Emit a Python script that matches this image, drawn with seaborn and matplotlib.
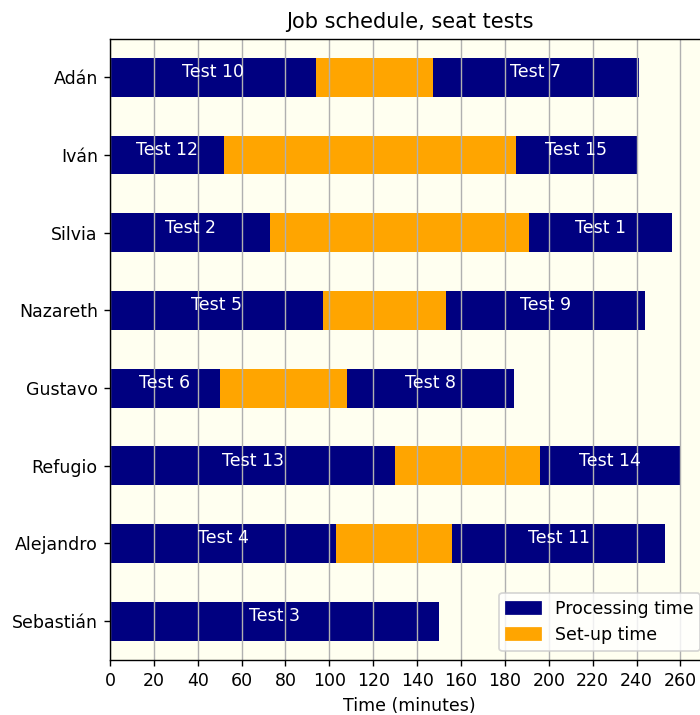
import matplotlib
matplotlib.use("Agg")
import matplotlib.pyplot as plt
from matplotlib.patches import Patch
import numpy as np
import pandas as pd
import seaborn as sns

# Workers and their two assigned tests (processing, set-up between them, processing)
workers = ["Adán", "Iván", "Silvia", "Nazareth", "Gustavo", "Refugio", "Alejandro", "Sebastián"]
first_test = ["Test 10", "Test 12", "Test 2", "Test 5", "Test 6", "Test 13", "Test 4", "Test 3"]
first_proc = [94, 52, 73, 97, 50, 130, 103, 150]
setup_time = [53, 133, 118, 56, 58, 66, 53, np.nan]
second_test = ["Test 7", "Test 15", "Test 1", "Test 9", "Test 8", "Test 14", "Test 11", None]
second_proc = [94, 55, 65, 91, 76, 64, 97, np.nan]
x_ticks = list(range(0, 261, 20))

proc_color = "navy"
setup_color = "orange"

df = pd.DataFrame({
    "worker": workers,
    "first": first_proc,
    "setup": setup_time,
    "second": second_proc,
})
df["end_first"] = df["first"]
df["end_setup"] = df["first"] + df["setup"]
df["end_second"] = df["end_setup"] + df["second"]

fig = plt.figure(figsize=(5.6, 5.72), dpi=125)
ax = fig.add_axes([0.1571, 0.0769, 0.8557, 0.8692])
ax.set_facecolor("ivory")

# Layered bars: each later layer covers the start of the previous one
common = dict(y="worker", orient="h", order=workers, width=0.5,
              saturation=1, errorbar=None, linewidth=0, ax=ax)
sns.barplot(data=df, x="end_second", color=proc_color, **common)
sns.barplot(data=df, x="end_setup", color=setup_color, **common)
sns.barplot(data=df, x="end_first", color=proc_color, **common)

# Test names centred on each processing segment
for i, row in df.iterrows():
    ax.text(row["first"] / 2, i, first_test[i], color="white",
            ha="center", va="baseline", fontsize=10)
    if second_test[i] is not None:
        mid = row["end_setup"] + row["second"] / 2
        ax.text(mid, i, second_test[i], color="white",
                ha="center", va="baseline", fontsize=10)

ax.set_xlim(0, 273)
ax.set_ylim(7.5, -0.5)
ax.set_xticks(x_ticks)
ax.set_axisbelow(False)
ax.xaxis.grid(True, color="#b0b0b0", linewidth=0.8)
ax.yaxis.grid(False)
for spine in ax.spines.values():
    spine.set_zorder(3.5)
    spine.set_color("black")
ax.set_xlabel("Time (minutes)")
ax.set_ylabel("")
ax.set_title("Job schedule, seat tests")

handles = [Patch(color=proc_color, label="Processing time"),
           Patch(color=setup_color, label="Set-up time")]
ax.legend(handles=handles, loc="lower right")

fig.savefig("out.png", dpi=125)
